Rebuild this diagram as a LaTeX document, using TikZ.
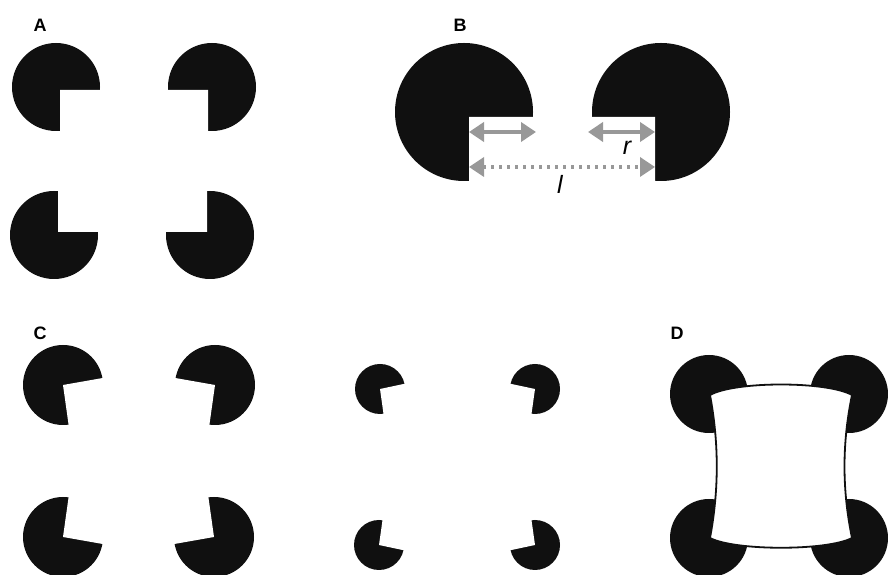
\documentclass[tikz,border=0pt]{standalone}
\usepackage{fontspec}
\newfontfamily\labfont{Liberation Sans}
\usetikzlibrary{arrows.meta}
\definecolor{inducer}{RGB}{16,16,16}
\definecolor{measure}{RGB}{152,152,152}

% Pac-man inducer: disc centre (#1,#2), radius #3, notch corner (#4,#5),
% notch bounded by the rays at angles #6 and #7
\newcommand\pacdisc[7]{%
  \fill[inducer] (#1,#2) circle (#3);
  \fill[white] (#4,#5) -- +(#6:{1.3*#3}) -- +({(#6+#7)/2}:{1.9*#3})
    -- +(#7:{1.3*#3}) -- cycle;
}

\tikzset{
  panellabel/.style={font=\labfont\bfseries\fontsize{18}{18}\selectfont,
    anchor=base, inner sep=0pt},
  varlabel/.style={font=\labfont\itshape\fontsize{25}{25}\selectfont,
    anchor=base, inner sep=0pt},
  span/.style={draw=measure, line width=4pt,
    {Triangle[length=15pt,width=19pt]}-{Triangle[length=15pt,width=19pt]}},
  dotspan/.style={span, line width=3.5pt, dash pattern=on 3pt off 5pt},
  contour/.style={fill=white, draw=inducer, line width=1.8pt},
}

\begin{document}
\begin{tikzpicture}[x=1pt, y=1pt]
\useasboundingbox (0,0) rectangle (888,575);

% ---- A: square Kanizsa figure
\pacdisc{56}{488}{44}{60}{485}{-90}{0}
\pacdisc{212}{488}{44}{208}{485}{180}{270}
\pacdisc{54}{340}{44}{58}{343}{0}{90}
\pacdisc{210}{340}{44}{207}{343}{90}{180}

% ---- B: inducer radius r and separation l
\pacdisc{464}{463}{69}{469}{458}{-90}{0}
\pacdisc{661}{463}{69}{655}{458}{180}{270}
\coordinate (rl1) at (469,443);
\coordinate (rl2) at (536,443);
\coordinate (rr1) at (588,443);
\coordinate (rr2) at (655,443);
\coordinate (ll1) at (469,408);
\coordinate (ll2) at (655,408);
\draw[span] (rl1) -- (rl2);
\draw[span] (rr1) -- (rr2);
\draw[dotspan] (ll1) -- (ll2);
\node[varlabel] (rlab) at (627,420) {r};
\node[varlabel] (llab) at (560,381) {l};

% ---- C: rotated inducers, large and small
\pacdisc{63}{190}{40}{63}{190}{-82}{10}
\pacdisc{215}{190}{40}{215}{190}{170}{262}
\pacdisc{63}{38}{40}{63}{38}{-10}{82}
\pacdisc{214}{38}{40}{214}{38}{98}{190}

\pacdisc{380}{186}{25}{380}{186}{-82}{12}
\pacdisc{535}{186}{25}{535}{186}{168}{262}
\pacdisc{379}{30}{25}{379}{30}{-12}{82}
\pacdisc{535}{30}{25}{535}{30}{98}{192}

% ---- D: curved contour drawn over full discs
\fill[inducer] (709,181) circle (39);
\fill[inducer] (849,181) circle (39);
\fill[inducer] (709,37) circle (39);
\fill[inducer] (849,37) circle (39);
\coordinate (dtl) at (710,180);
\coordinate (dtr) at (852,180);
\coordinate (dbr) at (852,37);
\coordinate (dbl) at (710,37);
\draw[contour] (dtl) .. controls (735,194) and (827,194) .. (dtr)
  .. controls (842,132) and (842,85) .. (dbr)
  .. controls (827,24) and (735,24) .. (dbl)
  .. controls (719,85) and (719,132) .. (dtl) -- cycle;

% ---- panel letters
\node[panellabel] (labA) at (40,543) {A};
\node[panellabel] (labB) at (460,543) {B};
\node[panellabel] (labC) at (40,235) {C};
\node[panellabel] (labD) at (677,235) {D};
\end{tikzpicture}
\end{document}
